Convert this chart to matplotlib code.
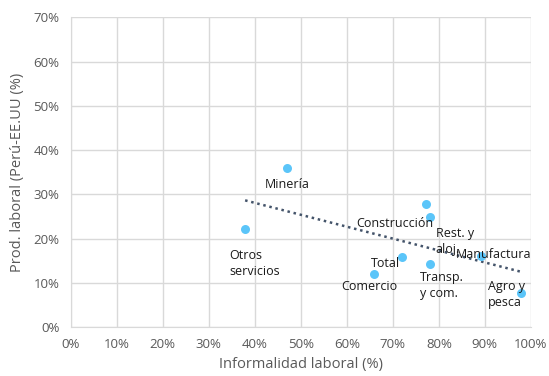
import matplotlib.pyplot as plt
import numpy as np
from matplotlib.ticker import PercentFormatter

plt.rcParams['font.family'] = ['Open Sans', 'DejaVu Sans']

# data (percent)
sectores = ['Minería', 'Otros\nservicios', 'Construcción', 'Rest. y\naloj.', 'Total',
            'Comercio', 'Transp.\ny com.', 'Manufactura', 'Agro y\npesca']
informalidad = [47.0, 37.9, 77.1, 78.0, 71.9, 66.0, 78.0, 89.1, 97.9]
productividad = [36.0, 22.1, 27.8, 24.8, 15.9, 12.0, 14.4, 16.1, 7.7]

# label placement (offset in pixels, alignment)
offsets = [(0, -17, 'center'), (-16, -34, 'left'), (-31, -19, 'center'),
           (6, -24, 'left'), (-16, -7, 'center'), (-5, -12, 'center'),
           (-10, -22, 'left'), (-25, 2, 'left'), (-33, -1, 'left')]

fig = plt.figure(figsize=(5.49, 3.76), dpi=100)
ax = fig.add_axes([0.1288, 0.1295, 0.967 - 0.1288, 0.954 - 0.1295])

grey = '#d9d9d9'
ax.set_xlim(0, 100)
ax.set_ylim(0, 70)
ax.set_xticks(np.arange(0, 101, 10))
ax.set_yticks(np.arange(0, 71, 10))
ax.xaxis.set_major_formatter(PercentFormatter(decimals=0))
ax.yaxis.set_major_formatter(PercentFormatter(decimals=0))
ax.grid(True, color=grey, linewidth=1)
ax.set_axisbelow(True)
for s in ax.spines.values():
    s.set_color(grey)
ax.spines['top'].set_visible(False)
ax.spines['right'].set_visible(False)
ax.tick_params(length=0, labelsize=9.5, labelcolor='#595959', pad=8)

ax.scatter(informalidad, productividad, s=42, color='#5BC5F9', zorder=3, linewidths=0)

# linear trend
x = np.array(informalidad)
y = np.array(productividad)
m, b = np.polyfit(x, y, 1)
xt = np.array([x.min(), x.max()])
ax.plot(xt, m * xt + b, linestyle=(0, (1, 1.5)), color='#44546A', linewidth=1.8, zorder=2)

for lab, xi, yi, (dx, dy, ha) in zip(sectores, informalidad, productividad, offsets):
    ax.annotate(lab, (xi, yi), xytext=(dx, dy), textcoords='offset pixels',
                ha=ha, va='center', fontsize=9, color='#1a1a1a', zorder=4,
                linespacing=1.3)

ax.set_xlabel('Informalidad laboral (%)', fontsize=10.5, color='#595959', labelpad=4)
ax.set_ylabel('Prod. laboral (Perú-EE.UU (%)', fontsize=10.5, color='#595959', labelpad=6)

fig.savefig('out.png', dpi=100)
